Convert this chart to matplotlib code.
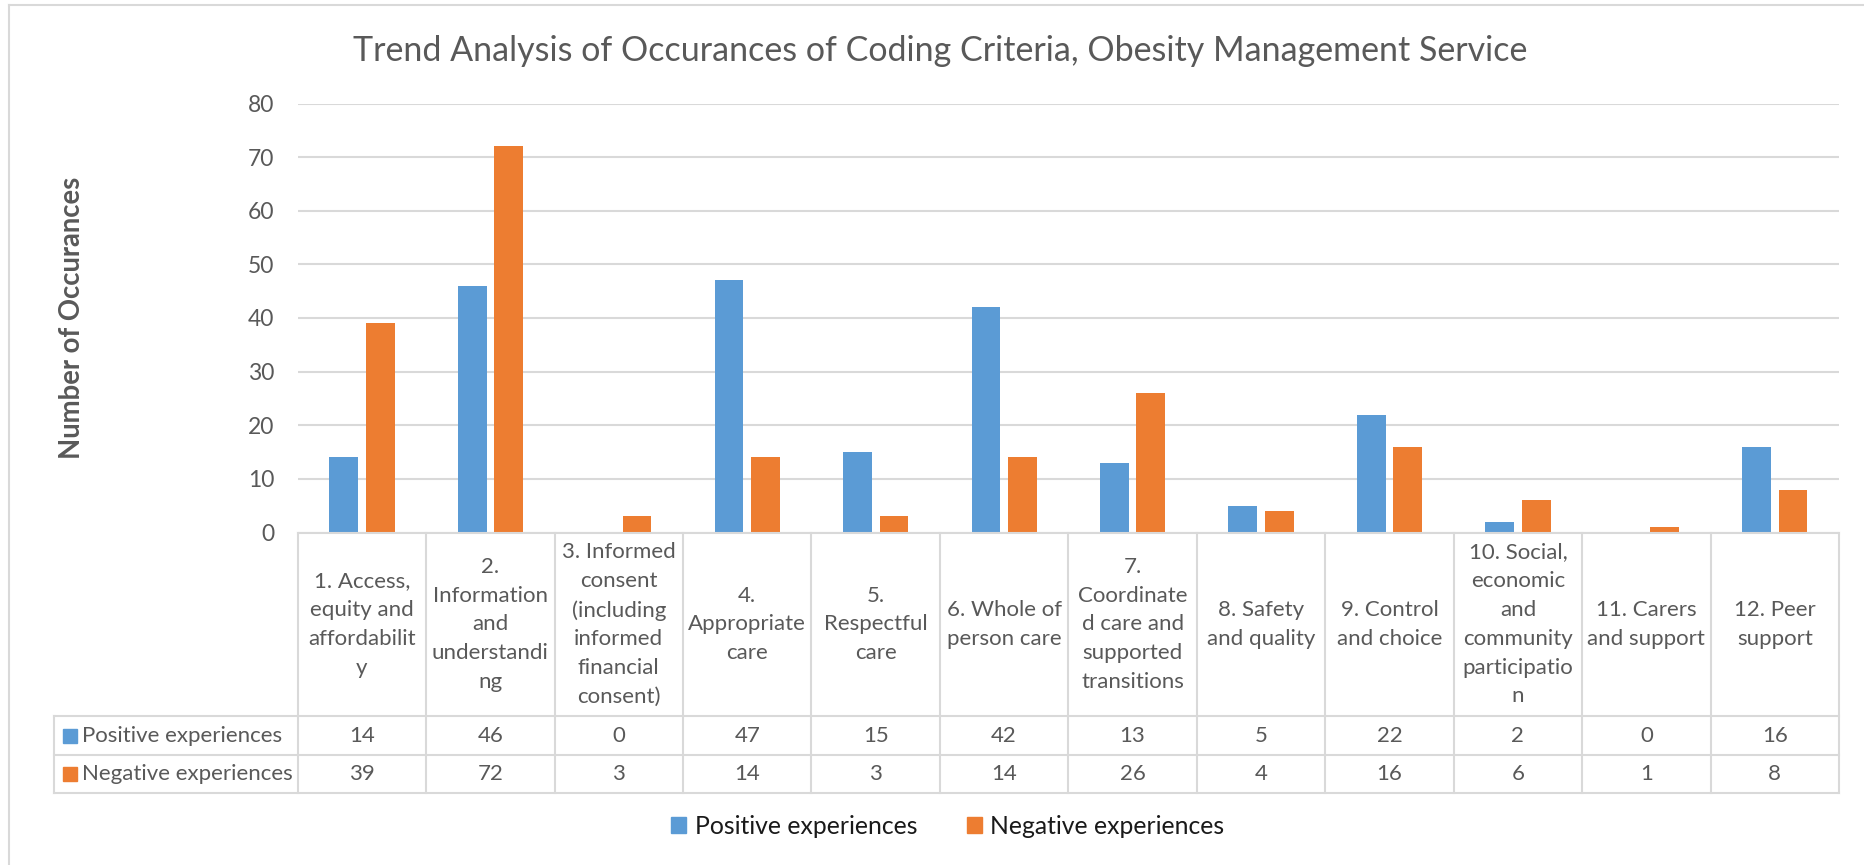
import numpy as np
import matplotlib
matplotlib.use('Agg')
import matplotlib.pyplot as plt
from matplotlib.patches import Rectangle, Patch
from matplotlib.lines import Line2D

plt.rcParams['font.family'] = ['Lato', 'DejaVu Sans']

# data
categories = ["1. Access,\nequity and\naffordabilit\ny",
              "2.\nInformation\nand\nunderstandi\nng",
              "3. Informed\nconsent\n(including\ninformed\nfinancial\nconsent)",
              "4.\nAppropriate\ncare",
              "5.\nRespectful\ncare",
              "6. Whole of\nperson care",
              "7.\nCoordinate\nd care and\nsupported\ntransitions",
              "8. Safety\nand quality",
              "9. Control\nand choice",
              "10. Social,\neconomic\nand\ncommunity\nparticipatio\nn",
              "11. Carers\nand support",
              "12. Peer\nsupport"]
positive = [14, 46, 0, 47, 15, 42, 13, 5, 22, 2, 0, 16]
negative = [39, 72, 3, 14, 3, 14, 26, 4, 16, 6, 1, 8]
series_names = ["Positive experiences", "Negative experiences"]
yticks = [0, 10, 20, 30, 40, 50, 60, 70, 80]

BLUE = '#5B9BD5'
ORANGE = '#ED7D31'
GRID = '#D9D9D9'
TXT = '#595959'

W, H = 1865, 865
fig = plt.figure(figsize=(W / 100, H / 100), dpi=100)

def box(x0, y0, x1, y1):
    # pixel box (top-left origin) -> figure fraction rect
    return [x0 / W, 1 - y1 / H, (x1 - x0) / W, (y1 - y0) / H]

# chart border (only left and top visible)
fig.add_artist(Line2D([9 / W, 9 / W], [0, 1 - 5 / H], color=GRID, lw=1.5))
fig.add_artist(Line2D([9 / W, 1], [1 - 5 / H, 1 - 5 / H], color=GRID, lw=1.5))

plot_l, plot_r = 297.7, 1839
ax = fig.add_axes(box(plot_l, 103.5, plot_r, 532.5))
n = len(categories)
x = np.arange(n) + 0.5
bw = 0.224
off = 0.142
ax.bar(x - off, positive, bw, color=BLUE, zorder=3)
ax.bar(x + off, negative, bw, color=ORANGE, zorder=3)
ax.set_xlim(0, n)
ax.set_ylim(0, 80)
ax.set_yticks(yticks)
ax.yaxis.grid(True, color=GRID, lw=1.5, zorder=0)
ax.tick_params(axis='y', length=0, pad=17, labelsize=16.5, labelcolor=TXT)
ax.tick_params(axis='x', length=0, labelbottom=False)
for s in ax.spines.values():
    s.set_visible(False)
ax.set_ylabel("Number of Occurances", fontsize=19.8, fontweight='bold', color=TXT)
ax.yaxis.set_label_coords(-0.138, 0.5)

# data table
colw = (plot_r - plot_l) / n
lab_w = (plot_l - 54) / colw
tab = fig.add_axes(box(54, 533, plot_r, 792.7))
tab.set_xlim(-lab_w, n)
tab.set_ylim(259.7, 0)
tab.axis('off')
hdr, r1 = 183, 222
kw = dict(color=GRID, lw=1.5, clip_on=False)
tab.plot([0, n], [0, 0], **kw)
tab.plot([-lab_w, n], [hdr, hdr], **kw)
tab.plot([-lab_w, n], [r1, r1], **kw)
tab.plot([-lab_w, n], [259.7, 259.7], **kw)
tab.plot([-lab_w, -lab_w], [hdr, 259.7], **kw)
for i in range(n + 1):
    tab.plot([i, i], [0, 259.7], **kw)
for i, lab in enumerate(categories):
    tab.text(i + 0.5, hdr / 2, lab, ha='center', va='center', fontsize=16,
             color=TXT, linespacing=1.55)
    tab.text(i + 0.5, (hdr + r1) / 2, str(positive[i]), ha='center', va='center',
             fontsize=16, color=TXT)
    tab.text(i + 0.5, (r1 + 259.7) / 2, str(negative[i]), ha='center', va='center',
             fontsize=16, color=TXT)
sq = 14 / colw
for (y0, y1), name, c in zip([(hdr, r1), (r1, 259.7)], series_names, [BLUE, ORANGE]):
    yc = (y0 + y1) / 2
    tab.add_patch(Rectangle((-lab_w + 9 / colw, yc - 7), sq, 14, color=c, clip_on=False))
    tab.text(-lab_w + 28 / colw, yc, name, ha='left', va='center', fontsize=16, color=TXT)

# title
fig.text(940 / W, 1 - 61 / H, "Trend Analysis of Occurances of Coding Criteria, Obesity Management Service",
         ha='center', va='baseline', fontsize=24.5, color=TXT)

# legend
handles = [Patch(color=BLUE), Patch(color=ORANGE)]
fig.legend(handles, series_names, loc='center', bbox_to_anchor=(948 / W, 1 - 826 / H),
           ncol=2, frameon=False, fontsize=17.8, handlelength=0.6, handleheight=0.6,
           handletextpad=0.35, columnspacing=2.0, labelcolor='#1a1a1a')

fig.savefig('out.png', dpi=100)
